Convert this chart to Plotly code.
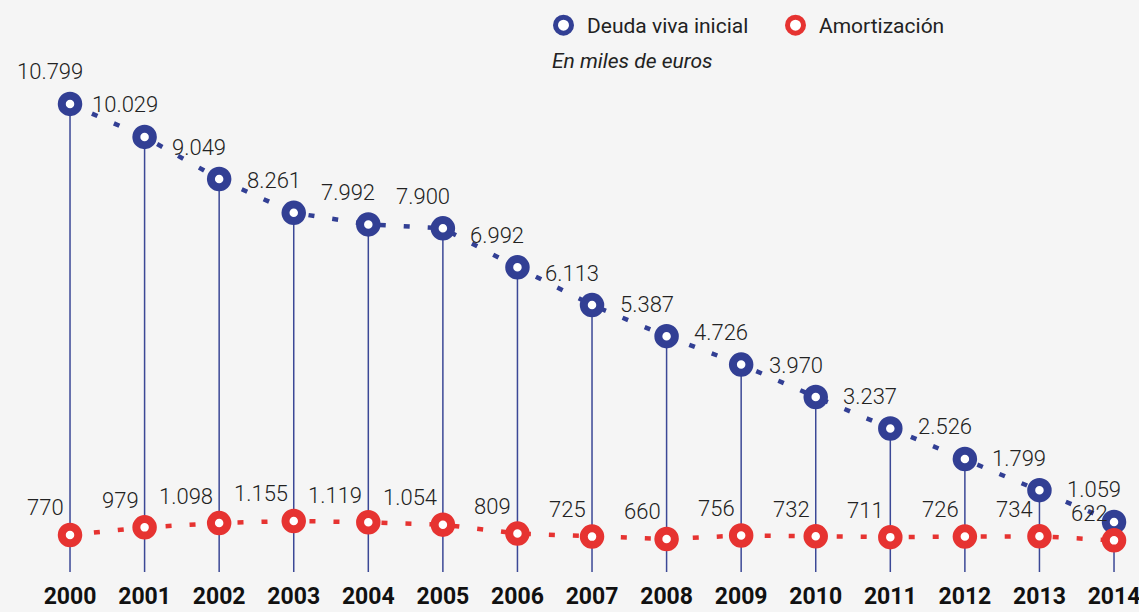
import plotly.graph_objects as go

YEARS = list(range(2000, 2015))
DEUDA = [10799, 10029, 9049, 8261, 7992, 7900, 6992, 6113, 5387, 4726, 3970, 3237, 2526, 1799, 1059]
AMORT = [770, 979, 1098, 1155, 1119, 1054, 809, 725, 660, 756, 732, 711, 726, 734, 622]
YEAR_LABELS = [str(y) for y in YEARS]

BLUE = "#323F94"
RED = "#E63331"
BG = "#F5F5F5"
STEM_BASE = -107


def fmt(v):
    return f"{v:,}".replace(",", ".")


fig = go.Figure()

# stems from blue point down to the axis
sx, sy = [], []
for x, v in zip(YEARS, DEUDA):
    sx += [x, x, None]
    sy += [v, STEM_BASE, None]
fig.add_trace(go.Scatter(x=sx, y=sy, mode="lines", line=dict(color="#3B4896", width=1.5),
                         hoverinfo="skip", showlegend=False))

for name, vals, col, yax in [("Deuda viva inicial", DEUDA, BLUE, "y"),
                             ("Amortización", AMORT, RED, "y2")]:
    fig.add_trace(go.Scatter(x=YEARS, y=vals, mode="lines", yaxis=yax, showlegend=False,
                             line=dict(color=col, width=4.5, dash="6px,18px"), hoverinfo="skip"))
    fig.add_trace(go.Scatter(x=YEARS, y=vals, name=name, mode="markers", yaxis=yax,
                             marker=dict(size=16.5, color="white", line=dict(color=col, width=8))))

lbl_font = dict(family="Roboto", size=22, color="#222", weight=300)
for x, v in zip(YEARS, DEUDA):
    fig.add_annotation(x=x, y=v, text=fmt(v), showarrow=False, xshift=-20, yshift=32,
                       font=lbl_font)
for x, v in zip(YEARS, AMORT):
    fig.add_annotation(x=x, y=v, yref="y2", text=fmt(v), showarrow=False, xanchor="right",
                       xshift=-4, yshift=27, font=lbl_font)

fig.add_annotation(x=550 / 1139, y=1 - 61 / 572, xref="paper", yref="paper",
                   text="<i>En miles de euros</i>",
                   showarrow=False, xanchor="left", yanchor="middle",
                   font=dict(family="Roboto", size=21, color="#222"))

fig.update_layout(
    width=1139, height=612,
    paper_bgcolor=BG, plot_bgcolor=BG,
    margin=dict(l=0, r=0, t=0, b=40, autoexpand=False),
    xaxis=dict(range=[1999.061, 2014.335], tickvals=YEARS, ticktext=YEAR_LABELS,
               showgrid=False, zeroline=False, showline=False, ticks="outside", ticklen=3,
               tickcolor=BG, ticklabeloverflow="allow", automargin=False,
               tickfont=dict(family="Roboto", size=23, color="#111", weight=700)),
    yaxis=dict(range=[-107, 13220], visible=False, automargin=False),
    yaxis2=dict(range=[-247, 15467], overlaying="y", visible=False),
    legend=dict(orientation="h", x=540 / 1139, y=1 - 5 / 572, xanchor="left", yanchor="top",
                font=dict(family="Roboto", size=21, color="#222"), bgcolor="rgba(0,0,0,0)",
                itemwidth=37, entrywidth=180),
    showlegend=True,
)

fig.write_html("out.html", config={"displayModeBar": False},
               post_script="document.body.style.margin='0';")
